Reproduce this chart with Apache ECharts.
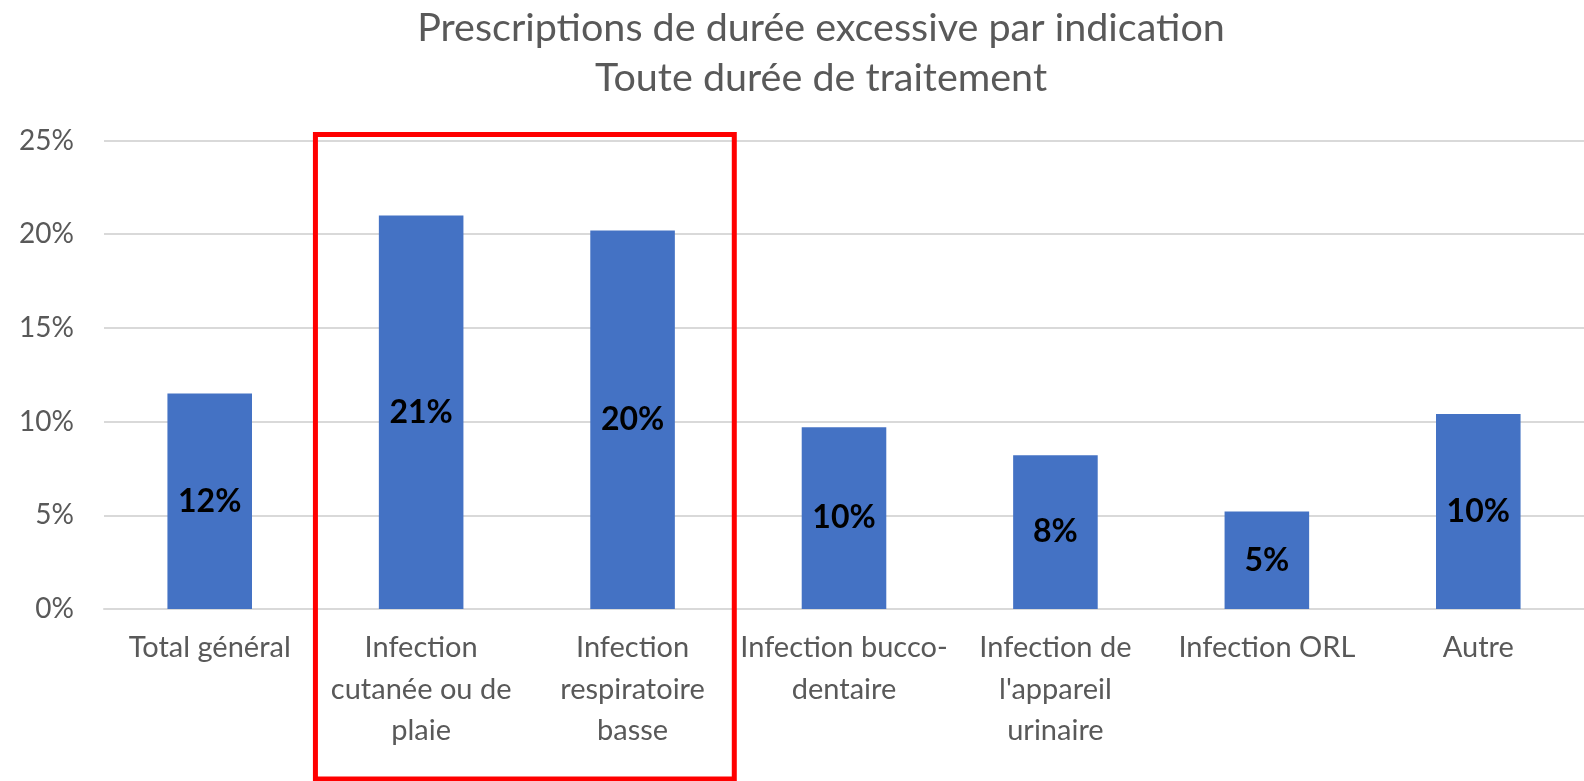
<!DOCTYPE html>
<html><head><meta charset="utf-8">
<script src="https://cdn.jsdelivr.net/npm/echarts@6/dist/echarts.min.js"></script>
<style>html,body{margin:0;padding:0;background:#fff}#c{width:1584px;height:781px}</style>
</head><body><div id="c"></div>
<script>
const titleLines = ["Prescriptions de durée excessive par indication", "Toute durée de traitement"];
const categories = ["Total général", "Infection cutanée ou de plaie", "Infection respiratoire basse", "Infection bucco-dentaire", "Infection de l'appareil urinaire", "Infection ORL", "Autre"];
const tickLabels = ["Total général", "Infection\ncutanée ou de\nplaie", "Infection\nrespiratoire\nbasse", "Infection bucco-\ndentaire", "Infection de\nl'appareil\nurinaire", "Infection ORL", "Autre"];
const values = [11.5, 21.0, 20.2, 9.7, 8.2, 5.2, 10.4];
const highlighted = [1, 2];
const yMin = 0, yMax = 25, yStep = 5;

const FONT = "Lato";
const chart = echarts.init(document.getElementById('c'), null, {renderer: 'canvas'});
chart.setOption({
  animation: false,
  backgroundColor: '#fff',
  title: {
    text: titleLines.join('\n'), left: 816, textAlign: 'center', top: -2,
    textStyle: {fontFamily: FONT, fontSize: 39.5, fontWeight: 'normal', color: '#595959', lineHeight: 50}
  },
  grid: {left: 104, right: 0, top: 140.5, bottom: 172, containLabel: false},
  xAxis: {
    type: 'category', data: categories,
    axisLine: {show: true, lineStyle: {color: '#d9d9d9', width: 2}},
    axisTick: {show: false},
    axisLabel: {
      interval: 0, margin: 18, color: '#595959', fontFamily: FONT, fontSize: 29, lineHeight: 41.5,
      formatter: (v, i) => tickLabels[i]
    }
  },
  yAxis: {
    type: 'value', min: yMin, max: yMax, interval: yStep,
    axisLine: {show: false}, axisTick: {show: false},
    splitLine: {lineStyle: {color: '#d9d9d9', width: 2}},
    axisLabel: {formatter: '{value}%', color: '#595959', fontFamily: FONT, fontSize: 28, margin: 30}
  },
  series: [{
    type: 'bar', data: values, barWidth: '40%',
    itemStyle: {color: '#4472C4'},
    label: {
      show: true, position: 'inside', color: '#000', fontFamily: FONT, fontWeight: 'bold', fontSize: 32,
      formatter: p => Math.round(p.value) + '%'
    }
  }]
});

const x1 = chart.convertToPixel({xAxisIndex: 0}, categories[highlighted[0]]);
const x2 = chart.convertToPixel({xAxisIndex: 0}, categories[highlighted[1]]);
const band = x2 - x1;
const yTop = chart.convertToPixel({yAxisIndex: 0}, yMax) - 6;
chart.setOption({
  graphic: [{
    type: 'rect', z: 100,
    shape: {x: x1 - band / 2, y: yTop, width: band * 2 - 4, height: 779 - yTop},
    style: {fill: 'none', stroke: '#ff0000', lineWidth: 5}
  }]
});
</script></body></html>
